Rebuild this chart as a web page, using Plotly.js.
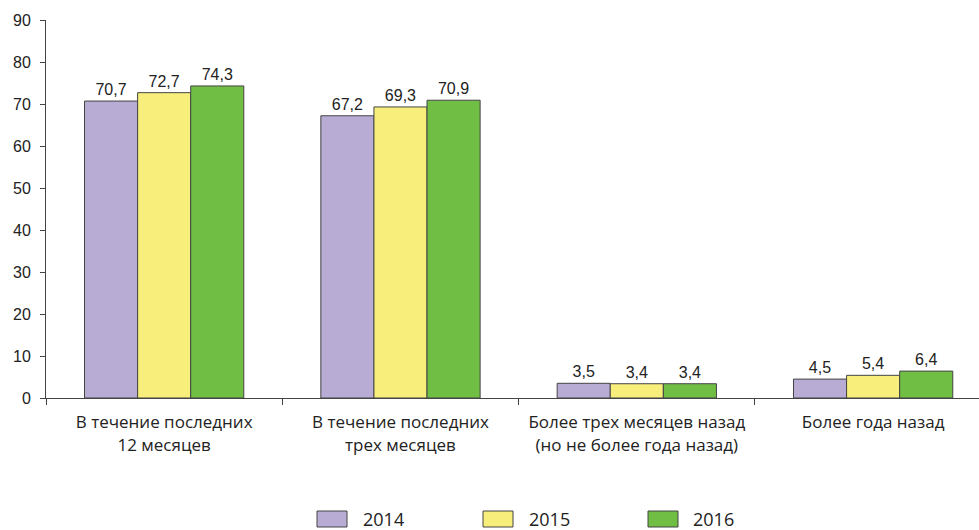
<!DOCTYPE html>
<html><head><meta charset="utf-8">
<script src="https://cdn.plot.ly/plotly-3.0.1.min.js"></script>
<style>html,body{margin:0;padding:0;background:#fff}#c{width:979px;height:530px}</style>
</head><body><div id="c"></div>
<script>
const categories = ["В течение последних<br>12 месяцев", "В течение последних<br>трех месяцев", "Более трех месяцев назад<br>(но не более года назад)", "Более года назад"];
const years = ["2014", "2015", "2016"];
const v2014 = [70.7, 67.2, 3.5, 4.5];
const v2015 = [72.7, 69.3, 3.4, 5.4];
const v2016 = [74.3, 70.9, 3.4, 6.4];
const colors = ["#b8acd4", "#f8ee7c", "#70bf44"];
const series = [v2014, v2015, v2016];

const W = 979, H = 530, ml = 46, mr = 0, mt = 20, mb = 132;
const pw = W - ml - mr, ph = H - mt - mb;
const numFont = {family: "Liberation Sans Narrow, Arial Narrow, Liberation Sans, sans-serif", size: 16, color: "#222"};
const txtFont = {family: "Open Sans, Noto Sans, sans-serif", size: 17, color: "#222"};

const traces = series.map((vals, i) => ({
  type: "bar", x: categories, y: vals, name: years[i],
  marker: {color: colors[i], line: {color: "#444", width: 1}},
  texttemplate: "%{y:.1f}", textposition: "outside", cliponaxis: false,
  textfont: numFont, showlegend: false, hoverinfo: "skip"
}));

// legend drawn as shapes + annotations (pixel positions converted to paper)
const px = x => (x - ml) / pw, py = y => (H - mb - y) / ph;
const legBoxes = [317, 483, 648], legText = [361, 527, 691];
const shapes = [], annotations = [];
years.forEach((y, i) => {
  shapes.push({type: "rect", xref: "paper", yref: "paper", x0: px(legBoxes[i]), x1: px(legBoxes[i] + 30),
    y0: py(527), y1: py(511), fillcolor: colors[i], line: {color: "#444", width: 1}});
  annotations.push({xref: "paper", yref: "paper", x: px(legText[i]), y: py(519), text: y, showarrow: false,
    xanchor: "left", yanchor: "middle", font: {family: txtFont.family, size: 18, color: "#222"}});
});

const layout = {
  width: W, height: H, margin: {l: ml, r: mr, t: mt, b: mb},
  paper_bgcolor: "#fff", plot_bgcolor: "#fff",
  separators: ", ",
  barmode: "group", bargap: 0.326, bargroupgap: 0,
  xaxis: {type: "category", range: [-0.5, 3.448], tickson: "boundaries", ticks: "outside", ticklen: 6,
    tickcolor: "#444", showline: true, linecolor: "#444", linewidth: 1, showgrid: false, zeroline: false,
    tickfont: txtFont, ticklabelstandoff: 9, fixedrange: true},
  yaxis: {range: [0, 90], dtick: 10, ticks: "outside", ticklen: 5, tickcolor: "#444", showline: true,
    linecolor: "#444", linewidth: 1, showgrid: false, zeroline: false, tickfont: numFont, ticklabelstandoff: 6},
  shapes: shapes, annotations: annotations, showlegend: false
};
Plotly.newPlot("c", traces, layout, {staticPlot: true});
</script></body></html>
